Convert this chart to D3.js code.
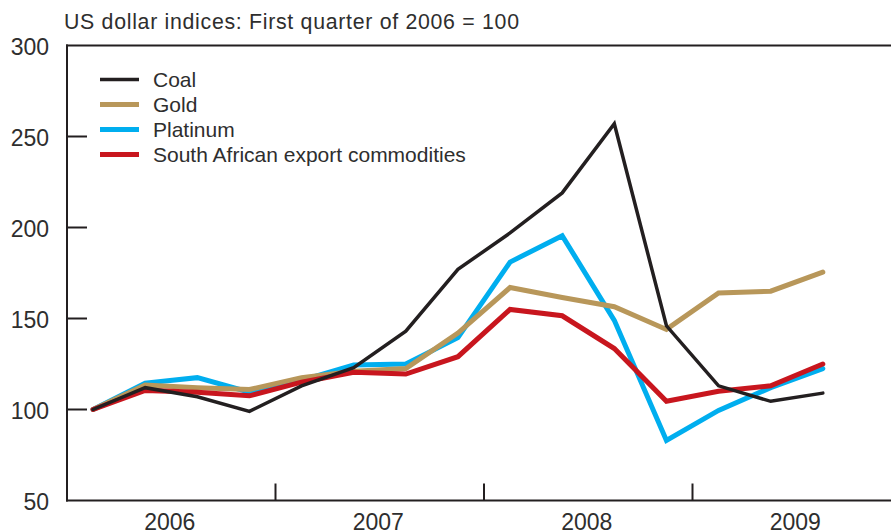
<!DOCTYPE html>
<html><head><meta charset="utf-8">
<script src="https://cdn.jsdelivr.net/npm/d3@7"></script>
<style>body{margin:0;background:#fff;} svg{display:block;} text{font-family:"Liberation Sans",Arial,sans-serif;fill:#2e2e2e;}</style>
</head><body>
<svg id="c" width="891" height="532"></svg>
<script>
const years = ["2006","2007","2008","2009"];
const yTicks = [50,100,150,200,250,300];
const seriesNames = ["Coal","Gold","Platinum","South African export commodities"];
const coal =     [100,112,107,99,113,123,143,177,197,219,257,146,113,104.5,109];
const gold =     [100,113.5,112,111,117.5,121,122.5,142,167,161.5,156.5,144,164,165,175.5];
const platinum = [100,114.5,117.5,109.5,116,124.5,125,139.5,181,195.5,149,83,99.5,112,122.5];
const saExport = [100,110.5,109.5,107.5,115,120.5,119.5,129,155,151.5,133.5,104.5,110,113,125];
const colors = ["#231f20","#b8975a","#00aeef","#c8161e"];
const widths = [3.5,5,5,5];

const svg = d3.select("#c");
const x = d3.scaleLinear().domain([0,16]).range([67,901]);
const y = d3.scaleLinear().domain([50,300]).range([500.5,45.5]);
const ax = "#231f20";

// frame
svg.append("line").attr("x1",66).attr("x2",891).attr("y1",y(300)).attr("y2",y(300)).attr("stroke",ax).attr("stroke-width",2);
svg.append("line").attr("x1",66).attr("x2",891).attr("y1",y(50)).attr("y2",y(50)).attr("stroke",ax).attr("stroke-width",2);
svg.append("line").attr("x1",67).attr("x2",67).attr("y1",y(300)-1).attr("y2",y(50)+1).attr("stroke",ax).attr("stroke-width",2);

// y ticks
yTicks.forEach(v=>{
  if(v>50 && v<300) svg.append("line").attr("x1",67).attr("x2",87).attr("y1",y(v)).attr("y2",y(v)).attr("stroke",ax).attr("stroke-width",2);
  svg.append("text").attr("x",49).attr("y",y(v)+9.5).attr("text-anchor","end").attr("font-size",23).text(v);
});
// x year ticks and labels
years.forEach((yr,i)=>{
  if(i>0) svg.append("line").attr("x1",x(i*4)).attr("x2",x(i*4)).attr("y1",y(50)).attr("y2",y(50)-17).attr("stroke",ax).attr("stroke-width",2);
  svg.append("text").attr("x",x(i*4+2)-1.5).attr("y",530).attr("text-anchor","middle").attr("font-size",23).text(yr);
});

// title
svg.append("text").attr("x",64).attr("y",28.5).attr("font-size",21.3)
  .attr("textLength",455).attr("lengthAdjust","spacing")
  .text("US dollar indices: First quarter of 2006 = 100");

const data = [coal,gold,platinum,saExport];
const line = d3.line().x((d,i)=>x(i+0.5)).y(d=>y(d));
[2,1,3,0].forEach(k=>{
  svg.append("path").datum(data[k]).attr("d",line).attr("fill","none")
    .attr("stroke",colors[k]).attr("stroke-width",widths[k]).attr("stroke-linejoin","miter").attr("stroke-linecap","round");
});

// legend
seriesNames.forEach((n,i)=>{
  const ly = 79.5 + i*25;
  svg.append("line").attr("x1",100).attr("x2",139).attr("y1",ly).attr("y2",ly).attr("stroke",colors[i]).attr("stroke-width",widths[i]);
  svg.append("text").attr("x",153).attr("y",ly+7.5).attr("font-size",21).text(n);
});
</script>
</body></html>
